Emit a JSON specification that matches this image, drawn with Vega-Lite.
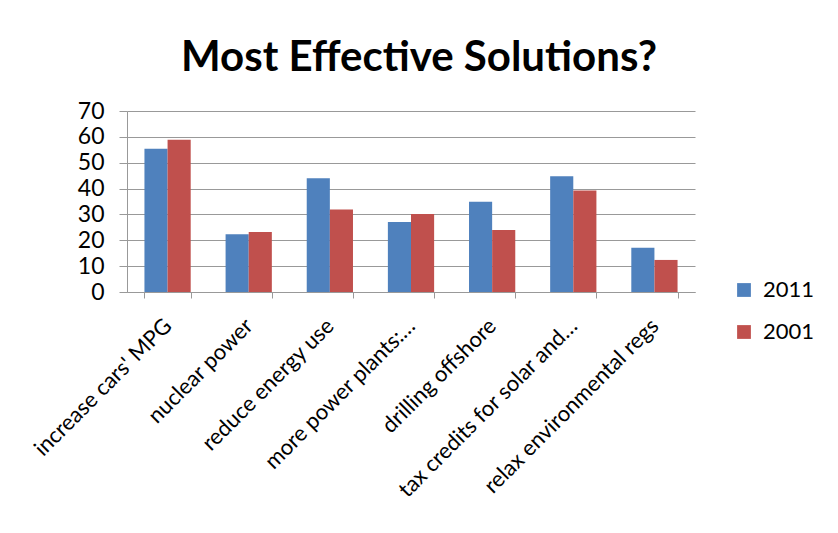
{
  "$schema": "https://vega.github.io/schema/vega-lite/v6.json",
  "width": 568,
  "height": 181,
  "autosize": {"type": "none"},
  "padding": {"left": 127, "top": 111, "right": 143, "bottom": 241},
  "background": "white",
  "title": {
    "text": "Most Effective Solutions?",
    "font": "Lato",
    "fontSize": 42,
    "fontWeight": "bold",
    "color": "black",
    "anchor": "middle",
    "offset": 20,
    "dx": 8
  },
  "data": {
    "values": [
      {"solution": "increase cars' MPG", "year": "2011", "value": 55.4},
      {"solution": "increase cars' MPG", "year": "2001", "value": 58.9},
      {"solution": "nuclear power", "year": "2011", "value": 22.3},
      {"solution": "nuclear power", "year": "2001", "value": 23.2},
      {"solution": "reduce energy use", "year": "2011", "value": 44.0},
      {"solution": "reduce energy use", "year": "2001", "value": 31.9},
      {"solution": "more power plants:…", "year": "2011", "value": 27.1},
      {"solution": "more power plants:…", "year": "2001", "value": 30.2},
      {"solution": "drilling offshore", "year": "2011", "value": 34.9},
      {"solution": "drilling offshore", "year": "2001", "value": 24.0},
      {"solution": "tax credits for solar and…", "year": "2011", "value": 44.8},
      {"solution": "tax credits for solar and…", "year": "2001", "value": 39.3},
      {"solution": "relax environmental regs", "year": "2011", "value": 17.1},
      {"solution": "relax environmental regs", "year": "2001", "value": 12.4}
    ]
  },
  "mark": {"type": "bar"},
  "encoding": {
    "x": {
      "field": "solution",
      "type": "nominal",
      "sort": null,
      "title": null,
      "scale": {"paddingInner": 0.43, "paddingOuter": 0.215},
      "axis": {
        "labelAngle": -45,
        "labelAlign": "right",
        "labelBaseline": "middle",
        "labelFont": "Lato",
        "labelFontSize": 22,
        "labelColor": "black",
        "labelPadding": 24,
        "labelLimit": 400,
        "labelOverlap": false,
        "tickBand": "extent",
        "tickSize": 6,
        "tickColor": "#999999",
        "domainColor": "#999999",
        "grid": false
      }
    },
    "xOffset": {"field": "year", "type": "nominal", "sort": ["2011", "2001"]},
    "y": {
      "field": "value",
      "type": "quantitative",
      "title": null,
      "scale": {"domain": [0, 70], "nice": false},
      "axis": {
        "values": [0, 10, 20, 30, 40, 50, 60, 70],
        "labelFont": "Lato",
        "labelFontSize": 23,
        "labelColor": "black",
        "labelPadding": 15,
        "tickSize": 8,
        "tickColor": "#999999",
        "domainColor": "#999999",
        "gridColor": "#999999",
        "gridWidth": 1
      }
    },
    "color": {
      "field": "year",
      "type": "nominal",
      "sort": ["2011", "2001"],
      "scale": {"domain": ["2011", "2001"], "range": ["#4F81BD", "#C0504D"]},
      "legend": {
        "title": null,
        "orient": "none",
        "legendX": 606,
        "legendY": 168,
        "symbolType": "square",
        "symbolSize": 190,
        "symbolStrokeWidth": 0,
        "labelFont": "Lato",
        "labelFontSize": 22,
        "labelColor": "black",
        "rowPadding": 20,
        "labelOffset": 8
      }
    }
  },
  "config": {"view": {"stroke": null}}
}
